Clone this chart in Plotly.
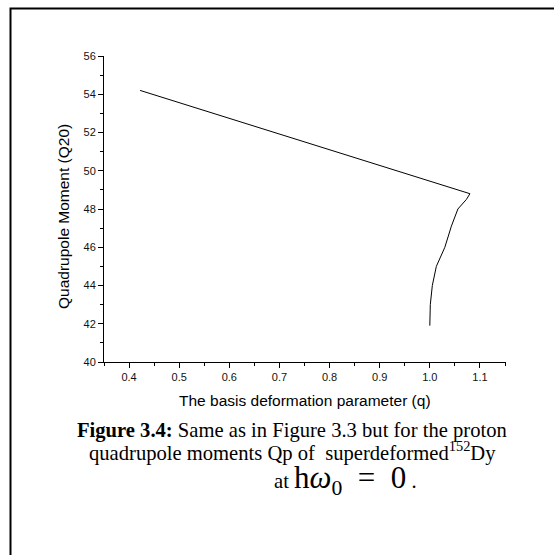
import plotly.graph_objects as go

# Data
q_values = [1.000, 1.001, 1.005, 1.013, 1.030, 1.043, 1.056, 1.073, 1.080, 0.422]
qp_values = [41.9, 43.0, 44.0, 45.0, 46.0, 47.1, 48.0, 48.5, 48.8, 54.2]

x_tick_vals = [0.4, 0.5, 0.6, 0.7, 0.8, 0.9, 1.0, 1.1]
x_tick_text = ["0.4", "0.5", "0.6", "0.7", "0.8", "0.9", "1.0", "1.1"]
y_tick_vals = [40, 42, 44, 46, 48, 50, 52, 54, 56]

W, H = 554, 555
L, R, T, B = 104, 506, 56, 362  # plot area in pixels

def px(x):
    return (x - L) / (R - L)

def py(y):
    return (B - y) / (B - T)

fig = go.Figure()
fig.add_trace(go.Scatter(x=q_values, y=qp_values, mode="lines",
                         line=dict(color="black", width=1), showlegend=False,
                         hoverinfo="skip"))

tickfont = dict(family="Liberation Sans, Arial", size=11, color="#111")
fig.update_xaxes(range=[0.35, 1.152], tickvals=x_tick_vals, ticktext=x_tick_text,
                 showline=True, linecolor="black", linewidth=1, ticks="outside",
                 ticklen=5, tickcolor="black", tickfont=tickfont, showgrid=False,
                 zeroline=False,
                 minor=dict(tick0=0.35, dtick=0.1, ticks="outside", ticklen=3,
                            tickcolor="black"))
fig.update_yaxes(range=[40, 56], tickvals=y_tick_vals,
                 showline=True, linecolor="black", linewidth=1, ticks="outside",
                 ticklen=5, tickcolor="black", tickfont=tickfont, showgrid=False,
                 zeroline=False,
                 minor=dict(tick0=41, dtick=2, ticks="outside", ticklen=3,
                            tickcolor="black"))

serif = "Liberation Serif, Times New Roman"
annotations = [
    dict(text="The basis deformation parameter (q)", x=0.5, y=py(400),
         xref="paper", yref="paper", showarrow=False,
         font=dict(family="Liberation Sans, Arial", size=15.5, color="black"),
         xanchor="center", yanchor="middle"),
    dict(text="Quadrupole Moment (Q20)", x=px(63), y=py(217),
         xref="paper", yref="paper", showarrow=False, textangle=-90,
         font=dict(family="Liberation Sans, Arial", size=15.5, color="black"),
         xanchor="center", yanchor="middle"),
    dict(text="<b>Figure 3.4:</b> Same as in Figure 3.3 but for the proton",
         x=px(292), y=py(430), xref="paper", yref="paper", showarrow=False,
         font=dict(family=serif, size=20.6, color="black"),
         xanchor="center", yanchor="middle"),
    dict(text="quadrupole moments Qp of  superdeformed<sup>152</sup>Dy",
         x=px(292), y=py(451), xref="paper", yref="paper", showarrow=False,
         font=dict(family=serif, size=20.6, color="black"),
         xanchor="center", yanchor="middle"),
    dict(text="at&nbsp;<span style='font-size:31px'>h<i>ω</i><sub>0</sub>"
              "&nbsp;&nbsp;=&nbsp;&nbsp;0</span>&nbsp;.",
         x=px(345), y=py(480), xref="paper", yref="paper", showarrow=False,
         font=dict(family=serif, size=20.6, color="black"),
         xanchor="center", yanchor="middle"),
]

shapes = [
    dict(type="rect", xref="paper", yref="paper",
         x0=px(10.5), x1=px(640), y0=py(640), y1=py(8.5),
         line=dict(color="black", width=2), fillcolor="rgba(0,0,0,0)"),
]

fig.update_layout(width=W, height=H, margin=dict(l=L, r=W - R, t=T, b=H - B),
                  paper_bgcolor="white", plot_bgcolor="white",
                  annotations=annotations, shapes=shapes)

fig.write_html("out.html",
               config={"displayModeBar": False, "staticPlot": True},
               post_script="document.body.style.margin='0';"
                           "document.body.style.overflow='hidden';")
